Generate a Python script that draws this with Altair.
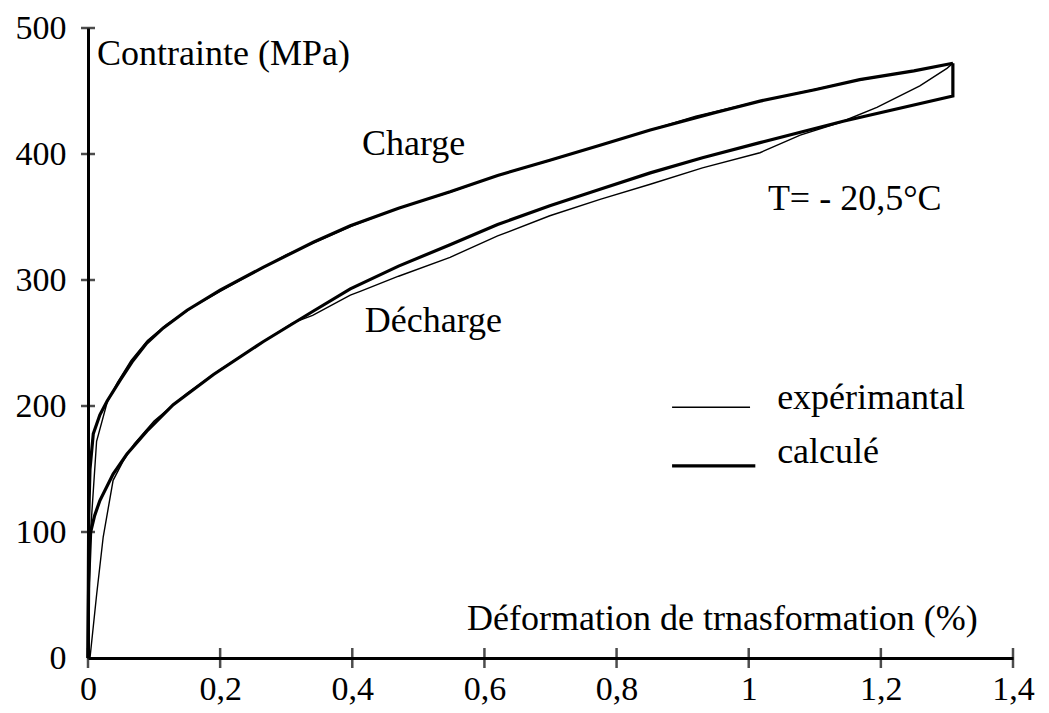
import altair as alt
import pandas as pd

FONT = "Liberation Serif"

# Calculated curves (thick)
charge_calc_x = [0, 0.001, 0.003, 0.008, 0.018, 0.029, 0.048, 0.068, 0.089, 0.114, 0.15, 0.2,
                 0.265, 0.341, 0.397, 0.47, 0.548, 0.62, 0.699, 0.775, 0.851, 0.95, 1.017, 1.1,
                 1.168, 1.25, 1.309]
charge_calc_y = [0, 110, 150, 178, 193, 204, 220, 236, 250, 262, 276, 292,
                 310, 330, 343, 357, 370, 383, 395, 407, 419, 433, 442, 451,
                 459, 466, 472]

decharge_calc_x = [0, 0.001, 0.004, 0.01, 0.018, 0.038, 0.059, 0.089, 0.129, 0.19, 0.265, 0.34,
                   0.397, 0.47, 0.548, 0.62, 0.699, 0.775, 0.851, 0.93, 1.017, 1.143, 1.309, 1.309]
decharge_calc_y = [0, 60, 100, 113, 125, 146, 162, 180, 201, 225, 251, 275,
                   293, 311, 328, 344, 359, 372, 385, 397, 409, 426, 446, 472]

# Experimental curves (thin)
charge_exp_x = [0, 0.002, 0.004, 0.013, 0.029, 0.045, 0.065, 0.09, 0.12, 0.16, 0.2, 0.3,
                0.4, 0.47, 0.55, 0.62, 0.7, 0.775, 0.85, 0.92, 1.0, 1.15, 1.25, 1.309]
charge_exp_y = [0, 55, 101, 172, 203, 219, 236, 252, 265, 279, 291, 320,
                343, 357, 370, 383, 395, 407, 419, 430, 440, 457, 466, 472]

decharge_exp_x = [0.003, 0.013, 0.023, 0.038, 0.053, 0.07, 0.1, 0.15, 0.2, 0.265, 0.31, 0.34,
                  0.397, 0.412, 0.47, 0.548, 0.62, 0.699, 0.775, 0.851, 0.93, 1.017, 1.078,
                  1.138, 1.194, 1.259, 1.30, 1.309]
decharge_exp_y = [0, 50, 96, 141, 156, 170, 188, 210, 229, 251, 266, 272,
                  288, 291, 303, 318, 335, 351, 364, 376, 389, 401, 415,
                  425, 437, 454, 468, 472]

x_ticks = [0, 0.2, 0.4, 0.6, 0.8, 1, 1.2, 1.4]
y_ticks = [0, 100, 200, 300, 400, 500]
y_tick_marks = [100, 200, 300, 400, 500]

# Annotations (data coordinates)
ann_text = ["Contrainte (MPa)", "Charge", "Décharge", "T= - 20,5°C", "expérimantal", "calculé",
            "Déformation de trnasformation (%)"]
ann_x = [0.0136, 0.4147, 0.419, 1.029, 1.043, 1.043, 0.5736]
ann_y = [470.8, 398.9, 259.1, 355.5, 197.5, 154.8, 22.1]

# Legend sample lines
leg_kind = ["expérimantal", "calculé"]
leg_x1 = [0.884, 0.884]
leg_x2 = [1.002, 1.01]
leg_y = [199, 152.5]


def curve_df(xs, ys, name):
    return pd.DataFrame({"x": xs, "y": ys, "curve": name, "i": list(range(len(xs)))})


calc = pd.concat([curve_df(charge_calc_x, charge_calc_y, "charge"),
                  curve_df(decharge_calc_x, decharge_calc_y, "decharge")])
exp = pd.concat([curve_df(charge_exp_x, charge_exp_y, "charge"),
                 curve_df(decharge_exp_x, decharge_exp_y, "decharge")])
ann = pd.DataFrame({"x": ann_x, "y": ann_y, "label": ann_text})
leg = pd.DataFrame({"kind": leg_kind, "x1": leg_x1, "x2": leg_x2, "y": leg_y})
xt = pd.DataFrame({"v": x_ticks})
yt = pd.DataFrame({"v": y_tick_marks})

xsc = alt.Scale(domain=[0, 1.4], nice=False, zero=False)
ysc = alt.Scale(domain=[0, 500], nice=False, zero=False)

x_axis = alt.Axis(values=x_ticks, labelExpr="replace(toString(datum.value), '.', ',')",
                  title=None, grid=False, ticks=False, tickSize=0, domainWidth=3,
                  domainColor="black", labelFont=FONT, labelFontSize=34, labelColor="black",
                  labelPadding=14, labelOverlap=False, labelFlush=False)
y_axis = alt.Axis(values=y_ticks, title=None, grid=False, ticks=False, tickSize=0,
                  domainWidth=3, domainColor="black", labelFont=FONT, labelFontSize=34,
                  labelColor="black", labelPadding=22, labelOverlap=False, labelFlush=False)

thick = alt.Chart(calc).mark_line(color="black", strokeWidth=3.2).encode(
    x=alt.X("x:Q", scale=xsc, axis=x_axis),
    y=alt.Y("y:Q", scale=ysc, axis=y_axis),
    detail="curve:N",
    order=alt.Order("i:Q"),
)

thin = alt.Chart(exp).mark_line(color="black", strokeWidth=1.4).encode(
    x=alt.X("x:Q", scale=xsc, axis=x_axis),
    y=alt.Y("y:Q", scale=ysc, axis=y_axis),
    detail="curve:N",
    order=alt.Order("i:Q"),
)

xticks = alt.Chart(xt).mark_tick(color="black", orient="vertical", size=20, thickness=2.5).encode(
    x=alt.X("v:Q", scale=xsc, axis=x_axis),
    y=alt.YDatum(0, scale=ysc, axis=y_axis),
)
yticks = alt.Chart(yt).mark_tick(color="black", orient="horizontal", size=14, thickness=2.5).encode(
    y=alt.Y("v:Q", scale=ysc, axis=y_axis),
    x=alt.XDatum(0, scale=xsc, axis=x_axis),
)

texts = alt.Chart(ann).mark_text(align="left", baseline="alphabetic", font=FONT, fontSize=36,
                                 color="black").encode(
    x=alt.X("x:Q", scale=xsc, axis=x_axis),
    y=alt.Y("y:Q", scale=ysc, axis=y_axis),
    text="label:N",
)

legend_lines = alt.Chart(leg).mark_rule(color="black").encode(
    x=alt.X("x1:Q", scale=xsc, axis=x_axis),
    x2="x2:Q",
    y=alt.Y("y:Q", scale=ysc, axis=y_axis),
    strokeWidth=alt.StrokeWidth("kind:N", scale=alt.Scale(domain=leg_kind, range=[1.4, 3.2]),
                                legend=None),
)

chart = alt.layer(thin, thick, xticks, yticks, texts, legend_lines).properties(
    width=925,
    height=630,
    autosize=alt.AutoSizeParams(type="none"),
    padding={"left": 80, "top": 20, "right": 28, "bottom": 52},
    background="white",
).configure_view(stroke=None)

chart.save("out.html", embed_options={"renderer": "svg", "actions": False})
